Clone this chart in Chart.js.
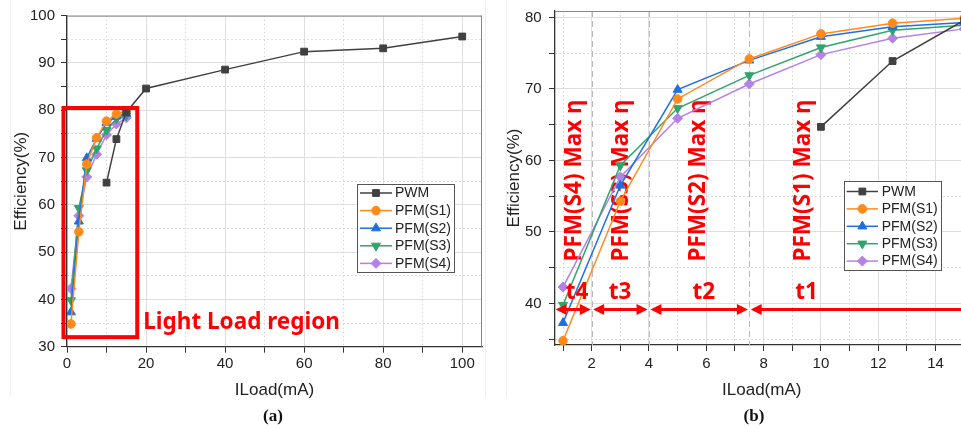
<!DOCTYPE html>
<html><head><meta charset="utf-8">
<script src="https://cdn.jsdelivr.net/npm/chart.js@4.4.1/dist/chart.umd.min.js"></script>
<style>
html,body{margin:0;padding:0;background:#fff;overflow:hidden;width:961px;height:428px;position:relative}
#ca{position:absolute;left:0;top:0}
#cb{position:absolute;left:480px;top:0}
</style></head><body>
<canvas id="ca" width="500" height="428" style="width:500px;height:428px"></canvas>
<canvas id="cb" width="520" height="428" style="width:520px;height:428px"></canvas>
<script>
// ---------- data ----------
const pfmLoad = [1, 3, 5, 7.5, 10, 12.5, 15];
const pwmLoad = [10, 12.5, 15, 20, 40, 60, 80, 100];
const pwmEff = [64.7, 73.9, 79.6, 84.6, 88.6, 92.4, 93.1, 95.6];
const s1Eff = [34.8, 54.3, 68.6, 74.2, 77.7, 79.2, 79.9];
const s2Eff = [37.3, 56.5, 69.9, 74.0, 77.3, 78.7, 79.3];
const s3Eff = [39.8, 59.3, 67.3, 71.9, 75.8, 78.2, 78.9];
const s4Eff = [42.3, 57.7, 65.9, 70.7, 74.8, 77.1, 78.4];
const seriesNames = ['PWM', 'PFM(S1)', 'PFM(S2)', 'PFM(S3)', 'PFM(S4)'];
const seriesColors = ['#404040', '#ff8a1c', '#1f6fe0', '#2fa46b', '#b482e6'];

// ticks
const aXMajor = [0, 20, 40, 60, 80, 100];
const aXMinor = [10, 30, 50, 70, 90];
const aYMajor = [30, 40, 50, 60, 70, 80, 90, 100];
const aYMinor = [35, 45, 55, 65, 75, 85, 95];
const bXMajor = [2, 4, 6, 8, 10, 12, 14];
const bXMinor = [1, 3, 5, 7, 9, 11, 13, 15];
const bYMajor = [40, 50, 60, 70, 80];
const bYMinor = [35, 45, 55, 65, 75];

// annotations (panel b)
const bRegionBounds = [2, 4, 7.5];
const bMaxLabels = ['PFM(S4) Max η', 'PFM(S3) Max η', 'PFM(S2) Max η', 'PFM(S1) Max η'];
const bMaxLabelX = [1.42, 3.04, 5.74, 9.40];
const bSpanLabels = ['t4', 't3', 't2', 't1'];
const bSpanStart = [0.74, 2.05, 4.05, 7.55];
const bSpanEnd = [1.97, 3.95, 7.45, 15.3];
const bSpanLabelX = [1.49, 2.99, 5.91, 9.5];

// ---------- styling ----------
const FONT = '"Liberation Sans", Arial, sans-serif';
const RED = '#ff0000';
const styles = ['rect', 'circle', 'triangle', 'triangle', 'rectRot'];
const rots = [0, 0, 0, 180, 0];
const rads = [4.8, 4.3, 5.2, 5.2, 5];
Chart.defaults.font.family = FONT;

function datasets() {
  const xs = [pwmLoad, pfmLoad, pfmLoad, pfmLoad, pfmLoad];
  const ys = [pwmEff, s1Eff, s2Eff, s3Eff, s4Eff];
  return ys.map((y, i) => ({
    label: seriesNames[i],
    data: xs[i].map((x, j) => ({x: x, y: y[j]})),
    borderColor: seriesColors[i], backgroundColor: seriesColors[i],
    borderWidth: 1.5, pointStyle: styles[i], pointRotation: rots[i],
    pointRadius: rads[i], pointHoverRadius: rads[i], pointBorderWidth: 1,
    tension: 0, fill: false
  }));
}

function axis(cfg) {
  const all = cfg.major.concat(cfg.minor).sort((a, b) => a - b);
  const isMaj = ctx => ctx && ctx.tick && cfg.major.includes(ctx.tick.value);
  return {
    type: 'linear', min: cfg.min, max: cfg.max,
    afterBuildTicks: s => { s.ticks = all.map(v => ({value: v})); },
    afterFit: s => {
      if (cfg.w !== undefined) s.width = cfg.w;
      if (cfg.h !== undefined) s.height = cfg.h;
      s.paddingTop = 0; s.paddingBottom = 0; s.paddingLeft = 0; s.paddingRight = 0;
    },
    ticks: {autoSkip: false, maxRotation: 0, minRotation: 0, padding: cfg.pad, color: '#222',
      font: {size: 15}, callback: v => cfg.major.includes(v) ? String(v) : ''},
    grid: {color: ctx => isMaj(ctx) ? '#dedede' : '#d4d4d4', lineWidth: 1, tickLength: 6,
      tickColor: '#333', tickWidth: 1},
    border: {color: '#333', width: 1.3, dash: ctx => (ctx && ctx.tick && !cfg.major.includes(ctx.tick.value)) ? [1.5, 2.5] : []},
    title: {display: true, text: cfg.title, color: '#222', font: {size: 17}, padding: cfg.tpad}
  };
}

function marker(ctx, i, x, y) {
  const r = rads[i];
  ctx.save();
  ctx.fillStyle = seriesColors[i]; ctx.strokeStyle = seriesColors[i]; ctx.lineWidth = 1;
  ctx.translate(x, y); ctx.rotate(rots[i] * Math.PI / 180);
  ctx.beginPath();
  const st = styles[i];
  if (st === 'circle') ctx.arc(0, 0, r, 0, Math.PI * 2);
  else if (st === 'rect') { const s = r * Math.SQRT1_2; ctx.rect(-s, -s, 2 * s, 2 * s); }
  else if (st === 'rectRot') { ctx.moveTo(0, -r); ctx.lineTo(r, 0); ctx.lineTo(0, r); ctx.lineTo(-r, 0); ctx.closePath(); }
  else { for (let k = 0; k < 3; k++) { const a = k * 2 * Math.PI / 3; const px = Math.sin(a) * r, py = -Math.cos(a) * r; k ? ctx.lineTo(px, py) : ctx.moveTo(px, py); } ctx.closePath(); }
  ctx.fill(); ctx.stroke(); ctx.restore();
}

function legend(ctx, box, rowY0, rowStep, lineX1, lineX2, textX) {
  ctx.save();
  ctx.fillStyle = '#fff'; ctx.fillRect(box[0], box[1], box[2] - box[0], box[3] - box[1]);
  ctx.strokeStyle = '#555'; ctx.lineWidth = 1;
  ctx.strokeRect(box[0] + 0.5, box[1] + 0.5, box[2] - box[0], box[3] - box[1]);
  seriesNames.forEach((n, i) => {
    const y = rowY0 + i * rowStep;
    ctx.strokeStyle = seriesColors[i]; ctx.lineWidth = 1.5;
    ctx.beginPath(); ctx.moveTo(lineX1, y); ctx.lineTo(lineX2, y); ctx.stroke();
    marker(ctx, i, (lineX1 + lineX2) / 2, y);
    ctx.fillStyle = '#222'; ctx.font = '14px ' + FONT; ctx.textBaseline = 'middle'; ctx.textAlign = 'left';
    ctx.fillText(n, textX, y + 0.5);
  });
  ctx.restore();
}

function frame(chart) {
  const a = chart.chartArea, ctx = chart.ctx;
  ctx.save(); ctx.strokeStyle = '#8a8a8a'; ctx.lineWidth = 1;
  ctx.beginPath(); ctx.moveTo(a.left, a.top + 0.5); ctx.lineTo(a.right, a.top + 0.5);
  ctx.moveTo(a.right - 0.5, a.top); ctx.lineTo(a.right - 0.5, a.bottom); ctx.stroke();
  ctx.restore();
}

function arrow(ctx, x1, x2, y) {
  const hl = 11, hw = 5.5;
  ctx.save(); ctx.strokeStyle = RED; ctx.fillStyle = RED; ctx.lineWidth = 3;
  ctx.beginPath(); ctx.moveTo(x1 + hl - 1, y); ctx.lineTo(x2 - hl + 1, y); ctx.stroke();
  ctx.beginPath(); ctx.moveTo(x1, y); ctx.lineTo(x1 + hl, y - hw); ctx.lineTo(x1 + hl, y + hw); ctx.closePath(); ctx.fill();
  ctx.beginPath(); ctx.moveTo(x2, y); ctx.lineTo(x2 - hl, y - hw); ctx.lineTo(x2 - hl, y + hw); ctx.closePath(); ctx.fill();
  ctx.restore();
}

function panelLabel(ctx, text, x) {
  ctx.save(); ctx.fillStyle = '#111'; ctx.font = 'bold 17px "Liberation Serif", "Times New Roman", serif';
  ctx.textAlign = 'center'; ctx.textBaseline = 'middle'; ctx.fillText(text, x, 417); ctx.restore();
}

// ---------- panel (a) ----------
new Chart(document.getElementById('ca'), {
  type: 'line',
  data: {datasets: datasets()},
  options: {
    responsive: false, animation: false, devicePixelRatio: 1,
    layout: {padding: {left: 0, right: 18, top: 15.7, bottom: 0}},
    plugins: {legend: {display: false}, tooltip: {enabled: false}, title: {display: false}},
    scales: {
      x: axis({min: 0, max: 105, major: aXMajor, minor: aXMinor, h: 81.3, pad: 2, title: 'ILoad(mA)', tpad: {top: 0, bottom: 27.8}}),
      y: axis({min: 30, max: 100, major: aYMajor, minor: aYMinor, w: 67, pad: 6, title: 'Efficiency(%)', tpad: {top: 11, bottom: 0}})
    }
  },
  plugins: [{
    id: 'annA',
    afterDraw(chart) {
      const ctx = chart.ctx, xs = chart.scales.x, ys = chart.scales.y;
      frame(chart);
      // faint figure frame
      ctx.save(); ctx.strokeStyle = '#efefef'; ctx.lineWidth = 1;
      ctx.beginPath(); ctx.moveTo(10.5, 0); ctx.lineTo(10.5, 396); ctx.moveTo(485.5, 0); ctx.lineTo(485.5, 397); ctx.stroke(); ctx.restore();
      // light load box
      const x1 = xs.getPixelForValue(-0.89), x2 = xs.getPixelForValue(17.77);
      const y1 = ys.getPixelForValue(80.48), y2 = ys.getPixelForValue(32.02);
      ctx.save(); ctx.strokeStyle = RED; ctx.lineWidth = 4; ctx.strokeRect(x1, y1, x2 - x1, y2 - y1);
      ctx.fillStyle = RED; ctx.font = 'bold 22.5px "Noto Sans", sans-serif'; ctx.textBaseline = 'alphabetic'; ctx.textAlign = 'left';
      ctx.fillText('Light Load region', xs.getPixelForValue(19.3), ys.getPixelForValue(33.75));
      ctx.restore();
      legend(ctx, [357, 184, 454, 272], 193, 17.6, 360, 392, 395);
      panelLabel(ctx, '(a)', 273);
    }
  }]
});

// ---------- panel (b) ----------
new Chart(document.getElementById('cb'), {
  type: 'line',
  data: {datasets: datasets()},
  options: {
    responsive: false, animation: false, devicePixelRatio: 1,
    layout: {padding: {left: 0, right: 31.5, top: 11, bottom: 0}},
    plugins: {legend: {display: false}, tooltip: {enabled: false}, title: {display: false}},
    scales: {
      x: axis({min: 0.72, max: 15.15, major: bXMajor, minor: bXMinor, h: 83, pad: 3.7, title: 'ILoad(mA)', tpad: {top: 0, bottom: 27.8}}),
      y: axis({min: 34.2, max: 80.9, major: bYMajor, minor: bYMinor, w: 75, pad: 7.3, title: 'Efficiency(%)', tpad: {top: 23.8, bottom: 0}})
    }
  },
  plugins: [{
    id: 'annB',
    beforeDatasetsDraw(chart) {
      const ctx = chart.ctx, xs = chart.scales.x, ys = chart.scales.y, a = chart.chartArea;
      ctx.save(); ctx.strokeStyle = '#b8b8b8'; ctx.lineWidth = 1; ctx.setLineDash([6, 4]);
      bRegionBounds.forEach(v => { const x = Math.round(xs.getPixelForValue(v)) + 0.5; ctx.beginPath(); ctx.moveTo(x, a.top); ctx.lineTo(x, a.bottom); ctx.stroke(); });
      ctx.restore();
      ctx.save(); ctx.fillStyle = RED; ctx.font = 'bold 22.5px "Noto Sans", sans-serif'; ctx.textAlign = 'center'; ctx.textBaseline = 'middle';
      bMaxLabels.forEach((t, i) => {
        ctx.save(); ctx.translate(xs.getPixelForValue(bMaxLabelX[i]), ys.getPixelForValue(57.2)); ctx.rotate(-Math.PI / 2);
        ctx.fillText(t, 0, 0); ctx.restore();
      });
      ctx.restore();
    },
    afterDraw(chart) {
      const ctx = chart.ctx, xs = chart.scales.x, ys = chart.scales.y;
      frame(chart);
      ctx.save(); ctx.strokeStyle = '#efefef'; ctx.lineWidth = 1;
      ctx.beginPath(); ctx.moveTo(26.5, 0); ctx.lineTo(26.5, 398); ctx.stroke(); ctx.restore();
      const ay = ys.getPixelForValue(39.16);
      bSpanLabels.forEach((t, i) => {
        arrow(ctx, xs.getPixelForValue(bSpanStart[i]), xs.getPixelForValue(bSpanEnd[i]), ay);
        ctx.save(); ctx.fillStyle = RED; ctx.font = 'bold 22.5px "Noto Sans", sans-serif'; ctx.textAlign = 'center'; ctx.textBaseline = 'middle';
        ctx.fillText(t, xs.getPixelForValue(bSpanLabelX[i]), ys.getPixelForValue(41.5)); ctx.restore();
      });
      legend(ctx, [364, 181, 461, 270], 191.5, 17.4, 366.7, 398, 401.7);
      panelLabel(ctx, '(b)', 274);
    }
  }]
});
</script>
</body></html>
